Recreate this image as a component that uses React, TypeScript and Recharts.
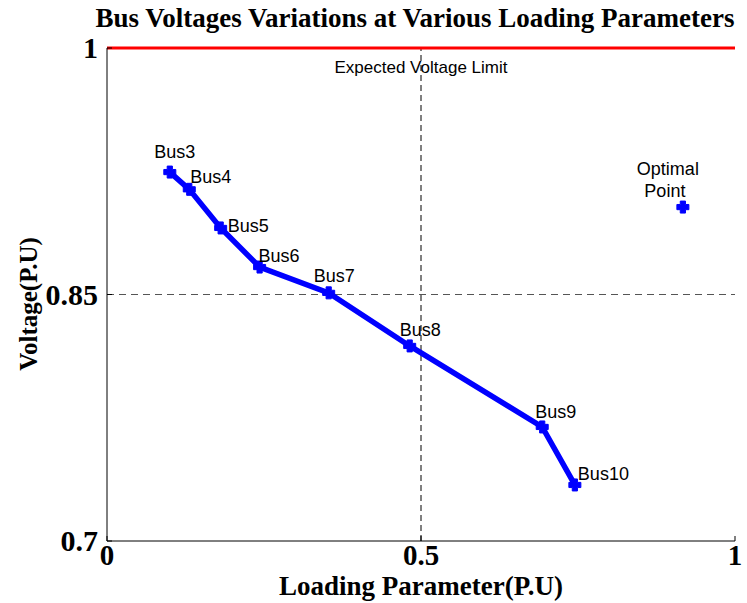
import React from 'react'
import { ComposedChart, Line, Scatter, XAxis, YAxis, ReferenceLine, Label } from 'recharts'

// bus points
const busNames = ['Bus3', 'Bus4', 'Bus5', 'Bus6', 'Bus7', 'Bus8', 'Bus9', 'Bus10']
const loadingParam = [0.1, 0.131, 0.181, 0.243, 0.353, 0.482, 0.693, 0.745]
const busVoltage = [0.9245, 0.914, 0.8905, 0.8667, 0.851, 0.8187, 0.7694, 0.7341]

const optimalLoading = [0.917]
const optimalVoltage = [0.9032]

const xTicks = [0, 0.5, 1]
const yTicks = [0.7, 0.85, 1]
const voltageLimit = 1
const expectedVoltage = 0.85
const midLoading = 0.5

// where each bus label sits relative to its marker: dx, dy, anchor
const labelOffsets: [number, number, string][] = [
  [5, -14, 'middle'],
  [1, -6, 'start'],
  [7, 4, 'start'],
  [-1, -5, 'start'],
  [-15, -11, 'start'],
  [-10, -10, 'start'],
  [-7, -9, 'start'],
  [3, -5, 'start'],
]

const busData = busNames.map((name, i) => ({ name, x: loadingParam[i], v: busVoltage[i] }))
const optimalData = optimalLoading.map((x, i) => ({ x, v: optimalVoltage[i] }))

const BLUE = '#0000ff'
const serif = '"Liberation Serif", "Times New Roman", serif'
const sans = '"Liberation Sans", Arial, sans-serif'

function PlusMark({ cx, cy }: { cx: number; cy: number }) {
  const a = 6
  const w = 2.6
  const d = `M${cx - w},${cy - a} H${cx + w} V${cy - w} H${cx + a} V${cy + w} H${cx + w} V${cy + a} H${cx - w} V${cy + w} H${cx - a} V${cy - w} H${cx - w} Z`
  return <path d={d} fill={BLUE} stroke={BLUE} strokeWidth={1} strokeLinejoin="round" />
}

const XTick = (props: any) => {
  const { x, y, payload } = props
  return (
    <g>
      <line x1={x} x2={x} y1={y} y2={y - 5} stroke="#000" />
      <text x={x} y={y + 24} textAnchor="middle" fontFamily={serif} fontWeight="bold" fontSize={29} fill="#000">
        {payload.value}
      </text>
    </g>
  )
}

const YTick = (props: any) => {
  const { x, y, payload } = props
  return (
    <g>
      <line x1={x} x2={x + 5} y1={y} y2={y} stroke="#000" />
      <text x={x - 9} y={y + 10} textAnchor="end" fontFamily={serif} fontWeight="bold" fontSize={30} fill="#000">
        {payload.value}
      </text>
    </g>
  )
}

export default function App() {
  return (
    <div style={{ position: 'absolute', left: 0, top: 0, width: 747, height: 603, background: '#fff' }}>
      <svg width={747} height={40} style={{ position: 'absolute', left: 0, top: 0 }}>
        <text x={415} y={27} textAnchor="middle" fontFamily={serif} fontWeight="bold" fontSize={27} fill="#000">
          Bus Voltages Variations at Various Loading Parameters
        </text>
      </svg>
      <ComposedChart
        width={747}
        height={603}
        data={busData}
        margin={{ top: 48, right: 12, bottom: 0, left: 0 }}
        style={{ position: 'absolute', left: 0, top: 0 }}
      >
        <XAxis
          dataKey="x"
          type="number"
          domain={[0, 1]}
          ticks={xTicks}
          height={62}
          stroke="#000"
          tickLine={false}
          tickSize={0}
          tickMargin={0}
          tick={<XTick />}
          allowDataOverflow
        >
          <Label
            content={({ viewBox }: any) => (
              <text
                x={viewBox.x + viewBox.width / 2}
                y={viewBox.y + 54}
                textAnchor="middle"
                fontFamily={serif}
                fontWeight="bold"
                fontSize={27}
                fill="#000"
              >
                Loading Parameter(P.U)
              </text>
            )}
          />
        </XAxis>
        <XAxis xAxisId="top" orientation="top" type="number" domain={[0, 1]} height={0} tick={false} tickLine={false} stroke="#000" />
        <YAxis
          dataKey="v"
          type="number"
          domain={[0.7, 1]}
          ticks={yTicks}
          width={107}
          stroke="#000"
          tickLine={false}
          tickSize={0}
          tickMargin={0}
          tick={<YTick />}
          allowDataOverflow
        >
          <Label
            content={() => (
              <text
                x={37}
                y={304}
                transform="rotate(-90, 37, 304)"
                textAnchor="middle"
                fontFamily={serif}
                fontWeight="bold"
                fontSize={25}
                fill="#000"
              >
                Voltage(P.U)
              </text>
            )}
          />
        </YAxis>
        <YAxis yAxisId="right" orientation="right" type="number" domain={[0.7, 1]} width={0} tick={false} tickLine={false} stroke="#000" />

        <ReferenceLine x={midLoading} stroke="#000" strokeDasharray="6 4" strokeWidth={1} />
        <ReferenceLine y={expectedVoltage} stroke="#555" strokeDasharray="7 5" strokeWidth={1.2} />
        <ReferenceLine
          y={voltageLimit}
          stroke="#ff0000"
          strokeWidth={3}
          label={({ viewBox }: any) => (
            <text
              x={viewBox.x + viewBox.width / 2}
              y={viewBox.y + 25}
              textAnchor="middle"
              fontFamily={sans}
              fontSize={17}
              fill="#000"
            >
              Expected Voltage Limit
            </text>
          )}
        />

        <Line
          dataKey="v"
          stroke={BLUE}
          strokeWidth={5.5}
          isAnimationActive={false}
          dot={(p: any) => <PlusMark key={`d${p.index}`} cx={p.cx} cy={p.cy} />}
          activeDot={false}
          label={(p: any) => {
            const [dx, dy, anchor] = labelOffsets[p.index]
            return (
              <text key={`l${p.index}`} x={p.x + dx} y={p.y + dy} textAnchor={anchor} fontFamily={sans} fontSize={18} fill="#000">
                {busNames[p.index]}
              </text>
            )
          }}
        />
        <Scatter
          data={optimalData}
          dataKey="v"
          isAnimationActive={false}
          shape={(p: any) => (
            <g>
              <PlusMark cx={p.cx} cy={p.cy} />
              <text x={p.cx - 15} y={p.cy - 32} textAnchor="middle" fontFamily={sans} fontSize={18} fill="#000">
                Optimal
              </text>
              <text x={p.cx - 18} y={p.cy - 10} textAnchor="middle" fontFamily={sans} fontSize={18} fill="#000">
                Point
              </text>
            </g>
          )}
        />
      </ComposedChart>
    </div>
  )
}
